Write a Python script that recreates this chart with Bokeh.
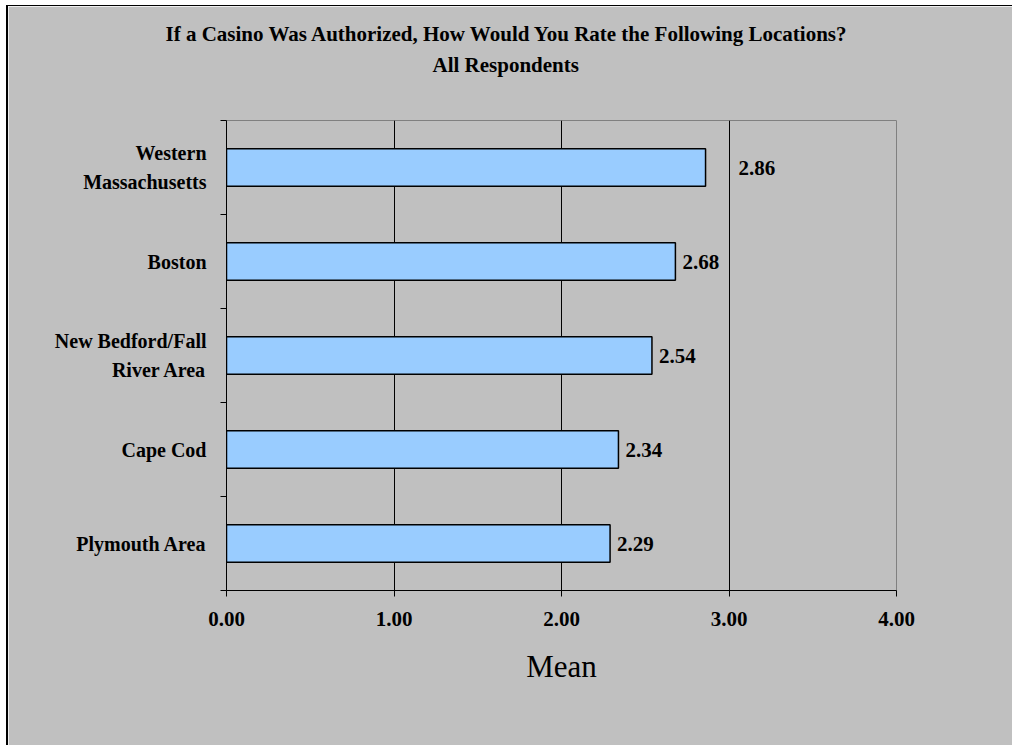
from bokeh.plotting import figure
from bokeh.models import ColumnDataSource, FixedTicker, PrintfTickFormatter, Title, Range1d
from bokeh.core.properties import value
from bokeh.embed import file_html
from bokeh.resources import INLINE

# ---- data ----
title_lines = ["If a Casino Was Authorized, How Would You Rate the Following Locations?",
               "All Respondents"]
locations = ["Western\nMassachusetts", "Boston", "New Bedford/Fall\nRiver Area",
             "Cape Cod", "Plymouth Area"]
means = [2.86, 2.68, 2.54, 2.34, 2.29]
x_ticks = [0, 1, 2, 3, 4]
x_axis_title = "Mean"

# ---- style / layout ----
BG = "#C0C0C0"
BAR = "#99CCFF"
SERIF = "Liberation Serif"
label_dx = [33, 7, 7, 7, 7]          # px gap between bar end and value label
title_offsets = [-61, 206]           # px from frame left to each title line's left edge
title_standoffs = [4, 6]

n = len(locations)
ypos = [n - 0.5 - i for i in range(n)]          # top-to-bottom order
band_edges = [float(i) for i in range(n + 1)]

FRAME_L, FRAME_T, FRAME_W, FRAME_H = 226, 120, 670, 470   # target picture pixels
OX, OY = 8, 6                                             # canvas origin in picture
W, H = 1004, 739

src = ColumnDataSource(dict(
    y=ypos, mean=means, label=["%.2f" % m for m in means], dx=label_dx))

p = figure(width=W, height=H, frame_width=FRAME_W, frame_height=FRAME_H,
           x_range=Range1d(x_ticks[0], x_ticks[-1]), y_range=Range1d(0, n),
           output_backend="svg", toolbar_location=None,
           min_border_left=FRAME_L - OX, min_border_top=FRAME_T - OY,
           min_border_right=W - (FRAME_L - OX) - FRAME_W,
           min_border_bottom=H - (FRAME_T - OY) - FRAME_H,
           background_fill_color=BG, border_fill_color=BG,
           outline_line_color="#808080", outline_line_width=1)
p.styles = {"border-left": "2px solid black", "border-top": "1px solid black",
            "margin-left": "6px", "margin-top": "5px"}

p.hbar(y="y", left=0, right="mean", height=0.4, source=src,
       fill_color=BAR, line_color="black", line_width=1.5)

p.text(x="mean", y="y", text="label", x_offset="dx", source=src,
       text_align="left", text_baseline="middle",
       text_font=value(SERIF), text_font_style="bold", text_font_size="21px",
       text_color="black")

# x axis
xa = p.xaxis[0]
xa.ticker = FixedTicker(ticks=x_ticks)
xa.formatter = PrintfTickFormatter(format="%.2f")
xa.major_tick_in = 0
xa.major_tick_out = 6
xa.minor_tick_line_color = None
xa.axis_line_color = "black"
xa.major_tick_line_color = "black"
xa.major_label_text_font = SERIF
xa.major_label_text_font_style = "bold"
xa.major_label_text_font_size = "21px"
xa.major_label_text_color = "black"
xa.major_label_standoff = 15
xa.axis_label = x_axis_title
xa.axis_label_text_font = SERIF
xa.axis_label_text_font_style = "normal"
xa.axis_label_text_font_size = "31px"
xa.axis_label_text_color = "black"
xa.axis_label_standoff = 20

# y axis
ya = p.yaxis[0]
ya.ticker = FixedTicker(ticks=ypos, minor_ticks=band_edges)
ya.major_label_overrides = {y: lab for y, lab in zip(ypos, locations)}
ya.major_tick_line_color = None
ya.major_tick_in = 0
ya.major_tick_out = 0
ya.minor_tick_in = 0
ya.minor_tick_out = 6
ya.minor_tick_line_color = "black"
ya.axis_line_color = "black"
ya.major_label_text_font = SERIF
ya.major_label_text_font_style = "bold"
ya.major_label_text_font_size = "20px"
ya.major_label_text_color = "black"
ya.major_label_text_line_height = 1.3
ya.major_label_standoff = 14

# grid
p.xgrid.ticker = FixedTicker(ticks=x_ticks[1:-1])
p.xgrid.grid_line_color = "black"
p.xgrid.grid_line_width = 1
p.ygrid.visible = False

# title: blank spacer next to the frame, then the two lines above it
p.add_layout(Title(text=" ", text_font=SERIF, text_font_size="21px",
                   text_color=BG, standoff=15), "above")
for text, off, so in reversed(list(zip(title_lines, title_offsets, title_standoffs))):
    p.add_layout(Title(text=text, align="left", offset=off,
                       text_font=SERIF, text_font_style="bold",
                       text_font_size="21px", text_color="black",
                       standoff=so), "above")

open("out.html", "w").write(file_html(p, INLINE))
